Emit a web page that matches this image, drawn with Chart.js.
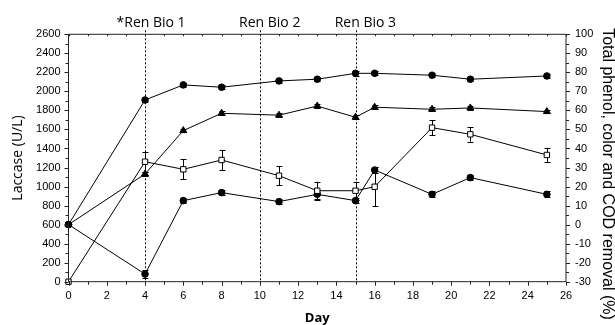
<!DOCTYPE html>
<html><head><meta charset="utf-8">
<script src="https://cdn.jsdelivr.net/npm/chart.js@4/dist/chart.umd.min.js"></script>
<style>html,body{margin:0;padding:0;background:#fff}#wrap{width:615px;height:325px;position:relative}</style>
</head><body><div id="wrap"><canvas id="c" width="615" height="325"></canvas></div>
<script>
// ---- data ----
const days = [0, 4, 6, 8, 11, 13, 15, 16, 19, 21, 25];
const laccase = [0, 1261, 1181, 1279, 1114, 956, 956, 998, 1619, 1549, 1332];      // U/L (left axis)
const laccaseErr = [0, 105, 105, 105, 100, 95, 95, 205, 77, 77, 75];
const removalTop = [0, 65.5, 73.4, 72.2, 75.5, 76.4, 79.5, 79.5, 78.5, 76.4, 78.1]; // % (right axis)
const removalTopErr = [0, 1.2, 1, 1, 1, 1, 1.2, 1, 1, 1, 1];
const removalMid = [0, 26.6, 49.4, 58.5, 57.5, 62.3, 56.4, 61.7, 60.6, 61.3, 59.4];
const removalMidErr = [0, 1, 1, 1, 1, 1, 1, 1, 1, 1, 1];
const removalLow = [0, -26, 12.6, 16.8, 12.1, 15.9, 12.6, 28.7, 15.9, 24.7, 15.9];
const removalLowErr = [0, 2, 1.5, 1.5, 1.5, 2.5, 1.5, 1.5, 1.5, 1.5, 1.5];
const eventDays = [4, 10, 15];
const eventLabels = ['*Ren Bio 1', 'Ren Bio 2', 'Ren Bio 3'];
const xTitle = 'Day';
const yTitle = 'Laccase (U/L)';
const y1Title = 'Total phenol, color and COD removal (%)';

const pts = arr => days.map((d, i) => ({x: d, y: arr[i]}));

const decoPlugin = {
  id: 'deco',
  beforeDatasetsDraw(chart) {
    const {ctx, chartArea: a, scales} = chart;
    const x = scales.x;
    ctx.save();
    // event dashed lines
    ctx.strokeStyle = '#000'; ctx.lineWidth = 1; ctx.setLineDash([2, 2]);
    eventDays.forEach(d => {
      const px = Math.round(x.getPixelForValue(d)) + 0.5;
      ctx.beginPath(); ctx.moveTo(px, a.top - 4); ctx.lineTo(px, a.bottom); ctx.stroke();
    });
    ctx.setLineDash([]);
    // event labels
    ctx.font = '14px "Open Sans"'; ctx.fillStyle = '#000';
    ctx.textAlign = 'left'; ctx.textBaseline = 'alphabetic';
    eventLabels.forEach((t, i) => {
      const px = x.getPixelForValue(eventDays[i]);
      const k = t.indexOf('n');
      const off = ctx.measureText(t.slice(0, k)).width + ctx.measureText('n').width / 2;
      ctx.fillText(t, px - off, 27);
    });
    // error bars
    chart.data.datasets.forEach((ds, i) => {
      if (!ds.errorBars) return;
      const meta = chart.getDatasetMeta(i);
      const sc = scales[ds.yAxisID];
      ctx.strokeStyle = '#000'; ctx.lineWidth = 1;
      meta.data.forEach((pt, j) => {
        const e = ds.errorBars[j];
        if (!e) return;
        const v = ds.data[j].y;
        const yt = sc.getPixelForValue(v + e), yb = sc.getPixelForValue(v - e);
        const px = Math.round(pt.x) + 0.5;
        ctx.beginPath();
        ctx.moveTo(px, yt); ctx.lineTo(px, yb);
        ctx.moveTo(px - 3, Math.round(yt) + 0.5); ctx.lineTo(px + 3, Math.round(yt) + 0.5);
        ctx.moveTo(px - 3, Math.round(yb) + 0.5); ctx.lineTo(px + 3, Math.round(yb) + 0.5);
        ctx.stroke();
      });
    });
    ctx.restore();
  },
  afterDraw(chart) {
    const {ctx, chartArea: a, scales} = chart;
    const {x, y, y1} = scales;
    ctx.save();
    ctx.strokeStyle = '#222'; ctx.lineWidth = 1;
    ctx.beginPath();
    ctx.rect(a.left, a.top, a.right - a.left, a.bottom - a.top);
    ctx.stroke();
    ctx.beginPath();
    for (let d = x.min; d <= x.max; d += 1) {
      const px = Math.round(x.getPixelForValue(d)) + 0.5;
      const L = d % 2 === 0 ? 4 : 3;
      ctx.moveTo(px, a.bottom); ctx.lineTo(px, a.bottom + L);
      ctx.moveTo(px, a.top); ctx.lineTo(px, a.top + 2);
    }
    for (let v = y.min; v <= y.max; v += 100) {
      const py = Math.round(y.getPixelForValue(v)) + 0.5;
      const L = v % 200 === 0 ? 4 : 3;
      ctx.moveTo(a.left - L, py); ctx.lineTo(a.left, py);
    }
    for (let v = y1.min; v <= y1.max; v += 5) {
      const py = Math.round(y1.getPixelForValue(v)) + 0.5;
      const L = v % 10 === 0 ? 4 : 3;
      ctx.moveTo(a.right, py); ctx.lineTo(a.right + L, py);
    }
    ctx.stroke();
    // right axis title
    ctx.translate(607, 174);
    ctx.rotate(Math.PI / 2);
    ctx.font = '16px "Liberation Sans"'; ctx.fillStyle = '#000';
    ctx.textAlign = 'center'; ctx.textBaseline = 'middle';
    ctx.fillText(y1Title, 0, 0);
    ctx.restore();
  }
};

Chart.defaults.font.family = '"Liberation Sans", Arial, sans-serif';
Chart.defaults.color = '#000';

const plain = v => String(v);
const common = {showLine: true, borderColor: '#000', borderWidth: 1, tension: 0, fill: false,
  pointBorderColor: '#000', pointBorderWidth: 1, clip: false};

new Chart(document.getElementById('c'), {
  type: 'scatter',
  data: {
    datasets: [
      Object.assign({}, common, {label: 'Laccase', data: pts(laccase), yAxisID: 'y', errorBars: laccaseErr,
        pointStyle: 'rect', pointRadius: 3.8, pointBackgroundColor: '#fff'}),
      Object.assign({}, common, {label: 'Removal A', data: pts(removalTop), yAxisID: 'y1', errorBars: removalTopErr,
        pointStyle: 'circle', pointRadius: 3.3, pointBackgroundColor: '#000'}),
      Object.assign({}, common, {label: 'Removal B', data: pts(removalMid), yAxisID: 'y1', errorBars: removalMidErr,
        pointStyle: 'triangle', pointRadius: 4, pointBackgroundColor: '#000'}),
      Object.assign({}, common, {label: 'Removal C', data: pts(removalLow), yAxisID: 'y1', errorBars: removalLowErr,
        pointStyle: 'circle', pointRadius: 3.3, pointBackgroundColor: '#000'})
    ]
  },
  options: {
    responsive: false, animation: false, devicePixelRatio: 1,
    layout: {padding: {top: 34.3, left: 0, right: 0, bottom: 0}},
    plugins: {legend: {display: false}, tooltip: {enabled: false}},
    scales: {
      x: {type: 'linear', position: 'bottom', min: 0, max: 26,
        ticks: {stepSize: 2, font: {size: 11}, padding: 8, maxRotation: 0, callback: plain},
        grid: {display: false, drawTicks: false}, border: {display: false},
        title: {display: true, text: xTitle, font: {family: '"Open Sans"', size: 13, weight: 'bold', lineHeight: 1}, padding: 0},
        afterFit: s => { s.height = 43.3; }},
      y: {type: 'linear', position: 'left', min: 0, max: 2600,
        ticks: {stepSize: 200, font: {size: 11}, padding: 8, callback: plain},
        grid: {display: false, drawTicks: false}, border: {display: false},
        title: {display: true, text: yTitle, font: {family: '"Open Sans"', size: 14}, padding: {top: 9.6, bottom: 0}},
        afterFit: s => { s.width = 68.5; }},
      y1: {type: 'linear', position: 'right', min: -30, max: 100,
        ticks: {stepSize: 10, font: {size: 11}, padding: 9, callback: plain},
        grid: {display: false, drawTicks: false}, border: {display: false},
        title: {display: false},
        afterFit: s => { s.width = 49; }}
    }
  },
  plugins: [decoPlugin]
});
</script>
</body></html>
